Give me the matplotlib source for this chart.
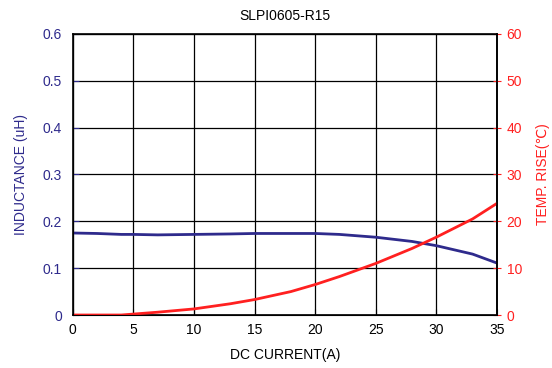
import numpy as np
import matplotlib.pyplot as plt

plt.rcParams['font.family'] = ['Liberation Sans', 'DejaVu Sans']

current = [0, 2, 4, 5, 7, 10, 13, 15, 18, 20, 22, 25, 28, 30, 33, 35]
inductance = [0.175, 0.174, 0.172, 0.172, 0.171, 0.172, 0.173, 0.174, 0.174, 0.174, 0.172, 0.166, 0.157, 0.148, 0.130, 0.111]
temp_current = [0, 2, 4, 5, 7, 10, 13, 15, 18, 20, 22, 25, 28, 30, 33, 35]
temp_rise = [0, 0, 0, 0.2, 0.6, 1.3, 2.4, 3.3, 5.0, 6.5, 8.2, 11.0, 14.2, 16.6, 20.5, 23.8]

navy = '#2E2A8C'
red = '#FF2020'

fig = plt.figure(figsize=(5.52, 3.68), dpi=100)
ax = fig.add_axes([0.132, 0.144, 0.768, 0.764])
ax.plot(current, inductance, color=navy, lw=2)
ax.set_xlim(0, 35)
ax.set_ylim(0, 0.6)
ax.set_xticks(np.arange(0, 36, 5))
ax.set_yticks(np.arange(0, 0.61, 0.1))
ax.set_yticklabels(['0', '0.1', '0.2', '0.3', '0.4', '0.5', '0.6'])
ax.grid(True, color='black', lw=0.9)
ax.tick_params(axis='y', colors=navy, labelsize=10, length=4, direction='in', pad=8)
ax.tick_params(axis='x', labelsize=10, length=4, direction='in', colors='black', pad=6)
ax.set_xlabel('DC CURRENT(A)', fontsize=10, labelpad=8)
ax.set_ylabel('INDUCTANCE (uH)', color=navy, fontsize=10, labelpad=10)
ax.set_title('SLPI0605-R15', fontsize=10, pad=10)
for s in ax.spines.values():
    s.set_linewidth(1.2)

ax2 = ax.twinx()
ax2.plot(temp_current, temp_rise, color=red, lw=2)
ax2.set_ylim(0, 60)
ax2.set_yticks(np.arange(0, 61, 10))
ax2.tick_params(axis='y', colors=red, labelsize=10, length=6, direction='inout', pad=4)
ax2.spines['right'].set_color('black')
ax2.spines['right'].set_linewidth(1.2)
ax2.set_ylabel('TEMP. RISE(\u2103)', color=red, fontsize=10, labelpad=10)

fig.savefig('out.png', dpi=100)
